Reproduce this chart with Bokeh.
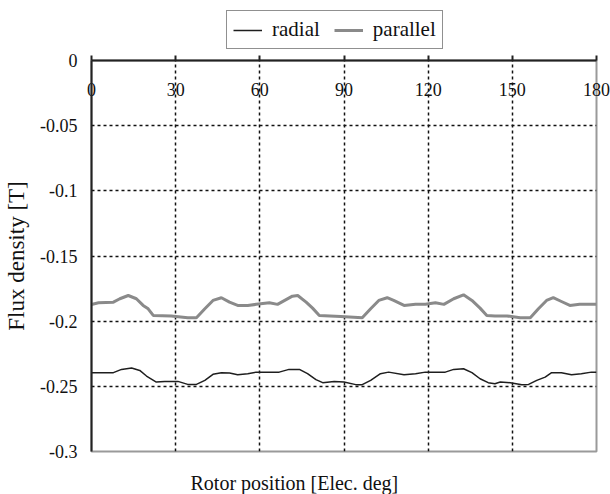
from bokeh.plotting import figure
from bokeh.layouts import column
from bokeh.models import Range1d, FixedTicker, Legend, LegendItem, Title
from bokeh.embed import file_html
from bokeh.resources import INLINE

# Rotor position [deg] and flux density [T]
par_x = [0, 2.5, 7.8, 10.1, 13.1, 16, 18.4, 20.2, 22, 28.4, 34.3, 37.4, 40.4, 43.3, 46.3,
         49.2, 52.1, 55.7, 58.7, 63.4, 66.3, 71.6, 73.5, 76.5, 78.8, 81.2, 88.8, 96.5,
         99.5, 102.4, 105.4, 107.7, 111.4, 115.5, 119, 122.6, 125.6, 129.1, 132.6, 135.6,
         138.5, 140.9, 143.8, 148.1, 152.8, 156.4, 159.3, 162.2, 164.6, 167.5, 170.5,
         174, 178.2, 180]
par_y = [-0.1872, -0.1859, -0.1854, -0.1828, -0.1803, -0.1828, -0.1879, -0.1905, -0.1956,
         -0.1960, -0.1974, -0.1974, -0.1905, -0.1841, -0.1820, -0.1854, -0.1879, -0.1879,
         -0.1871, -0.1859, -0.1871, -0.1808, -0.1803, -0.1854, -0.1900, -0.1956, -0.1964,
         -0.1974, -0.1905, -0.1841, -0.1820, -0.1841, -0.1879, -0.1871, -0.1871, -0.1859,
         -0.1871, -0.1828, -0.1798, -0.1841, -0.1900, -0.1956, -0.1960, -0.1960, -0.1974,
         -0.1974, -0.1905, -0.1841, -0.1820, -0.1849, -0.1879, -0.1871, -0.1871, -0.1871]

rad_x = [0, 7.8, 10.7, 14.3, 17.2, 19.6, 23.1, 26.1, 30.8, 34.3, 37.4, 40.4, 43.3, 46.3,
         49.2, 52.1, 55.7, 58.7, 66.9, 70.4, 74.1, 77, 80, 82.4, 86.5, 90, 94.2, 96.5,
         99.5, 103, 105.9, 111.4, 115.5, 119, 126.1, 129.1, 132.6, 135.6, 138.5, 141.4,
         143.8, 145.7, 149.3, 153.4, 155.8, 158.7, 161.7, 164, 167.5, 171.1, 174.6,
         178.2, 180]
rad_y = [-0.2395, -0.2395, -0.2370, -0.2360, -0.2378, -0.2421, -0.2467, -0.2462, -0.2462,
         -0.2485, -0.2485, -0.2454, -0.2408, -0.2395, -0.2398, -0.2411, -0.2403, -0.2391,
         -0.2391, -0.2370, -0.2370, -0.2403, -0.2449, -0.2472, -0.2462, -0.2467, -0.2487,
         -0.2487, -0.2454, -0.2403, -0.2391, -0.2411, -0.2403, -0.2391, -0.2391, -0.2370,
         -0.2365, -0.2395, -0.2442, -0.2472, -0.2480, -0.2467, -0.2472, -0.2487, -0.2485,
         -0.2454, -0.2429, -0.2395, -0.2395, -0.2411, -0.2403, -0.2391, -0.2391]

x_ticks = [0, 30, 60, 90, 120, 150, 180]
x_tick_labels = ["0", "30", "60", "90", "120", "150", "180"]
y_ticks = [0, -0.05, -0.1, -0.15, -0.2, -0.25, -0.3]
y_tick_labels = ["0", "-0.05", "-0.1", "-0.15", "-0.2", "-0.25", "-0.3"]
series_names = ["radial", "parallel"]

FONT = "Liberation Serif"
RAD_COLOR, PAR_COLOR = "#1e1e1e", "#8a8a8a"

# ---------------- main chart ----------------
p = figure(width=610, height=413, output_backend="svg", toolbar_location=None,
           x_range=Range1d(0, 180), y_range=Range1d(-0.3, 0),
           x_axis_location="above", min_border_left=91, min_border_right=14,
           min_border_top=10, min_border_bottom=12)
p.background_fill_color = "white"
p.border_fill_color = "white"
p.outline_line_color = "#9a9a9a"
p.outline_line_width = 2

# x axis on top (at y = 0); its labels are pulled below the line
xa = p.xaxis[0]
xa.ticker = FixedTicker(ticks=x_ticks)
xa.major_label_overrides = {t: l for t, l in zip(x_ticks, x_tick_labels)}
xa.major_label_text_font = FONT
xa.major_label_text_font_size = "18px"
xa.major_label_text_color = "#111111"
xa.major_label_standoff = -40
xa.major_tick_out = 5
xa.major_tick_in = 0
xa.minor_tick_out = 0
xa.minor_tick_in = 0
xa.axis_line_width = 2
xa.axis_line_color = "#222222"
xa.major_tick_line_width = 2
xa.major_tick_line_color = "#222222"

ya = p.yaxis[0]
ya.ticker = FixedTicker(ticks=y_ticks)
ya.major_label_overrides = {t: l for t, l in zip(y_ticks, y_tick_labels)}
ya.major_label_text_font = FONT
ya.major_label_text_font_size = "18px"
ya.major_label_text_color = "#111111"
ya.major_tick_out = 0
ya.major_tick_in = 0
ya.minor_tick_out = 0
ya.minor_tick_in = 0
ya.major_label_standoff = 14
ya.axis_line_width = 2
ya.axis_line_color = "#222222"
ya.axis_label = "Flux density [T]"
ya.axis_label_text_font = FONT
ya.axis_label_text_font_size = "23px"
ya.axis_label_text_font_style = "normal"
ya.axis_label_text_color = "#111111"
ya.axis_label_standoff = 8

p.xgrid.ticker = FixedTicker(ticks=x_ticks[1:-1])
p.ygrid.ticker = FixedTicker(ticks=y_ticks[1:-1])
for g in (p.xgrid, p.ygrid):
    g.grid_line_color = "#111111"
    g.grid_line_dash = "3 3"
    g.grid_line_width = 1.5

p.line(rad_x, rad_y, line_color=RAD_COLOR, line_width=1.5)
p.line(par_x, par_y, line_color=PAR_COLOR, line_width=3)

# ---------------- legend strip above the chart ----------------
# (frames in a column are aligned, so this strip's frame starts where the chart's does)
lg = figure(width=610, height=50, output_backend="svg", toolbar_location=None,
            x_range=Range1d(0, 1), y_range=Range1d(0, 1),
            x_axis_location=None, y_axis_location=None,
            min_border_left=0, min_border_right=0, min_border_top=0, min_border_bottom=0)
lg.outline_line_color = None
lg.background_fill_color = "white"
lg.border_fill_color = "white"
for g in lg.grid:
    g.visible = False
# same series; they fall outside this strip's ranges, only their legend keys show
l_rad = lg.line(rad_x, rad_y, line_color=RAD_COLOR, line_width=1.5)
l_par = lg.line(par_x, par_y, line_color=PAR_COLOR, line_width=3)

legend = Legend(items=[LegendItem(label=series_names[0], renderers=[l_rad]),
                       LegendItem(label=series_names[1], renderers=[l_par])],
                orientation="horizontal", location=(135, 1))
legend.label_text_font = FONT
legend.label_text_font_size = "21px"
legend.label_text_color = "#111111"
legend.border_line_color = "#222222"
legend.border_line_width = 1.5
legend.glyph_width = 29
legend.label_standoff = 10
legend.spacing = 14
legend.padding = 6
legend.margin = 0
lg.add_layout(legend)

# ---------------- x-axis title strip below the chart ----------------
xt = figure(width=610, height=31, output_backend="svg", toolbar_location=None,
            x_range=Range1d(0, 1), y_range=Range1d(0, 1),
            x_axis_location=None, y_axis_location=None,
            min_border_left=0, min_border_right=0, min_border_top=30, min_border_bottom=0)
xt.outline_line_color = None
xt.background_fill_color = "white"
xt.border_fill_color = "white"
for g in xt.grid:
    g.visible = False
xt.title = Title(text="Rotor position [Elec. deg]", align="left", offset=99, standoff=0,
                 vertical_align="bottom", text_font=FONT, text_font_size="20px",
                 text_font_style="normal", text_color="#111111")

open("out.html", "w").write(file_html(column(lg, p, xt, spacing=0), INLINE))
